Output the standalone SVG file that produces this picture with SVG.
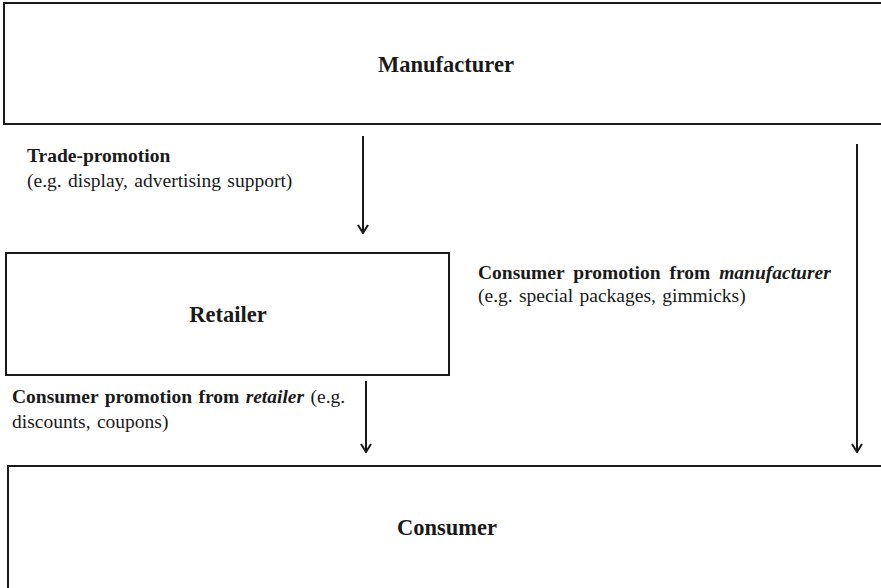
<svg xmlns="http://www.w3.org/2000/svg" width="881" height="588" viewBox="0 0 881 588">
  <style>
    .box { fill: #fff; stroke: #1a1a1a; stroke-width: 2; }
    .title { font-family: "Liberation Serif", "Times New Roman", serif; font-weight: bold; font-size: 22.5px; fill: #1a1a1a; text-anchor: middle; }
    .note { font-family: "Liberation Serif", "Times New Roman", serif; font-size: 19.5px; fill: #1a1a1a; word-spacing: 1.5px; }
    .wide { word-spacing: 4px; }
    .b { font-weight: bold; }
    .bi { font-weight: bold; font-style: italic; }
    .conn { stroke: #1a1a1a; stroke-width: 2; fill: none; marker-end: url(#arrow); }
  </style>
  <defs>
    <!-- open V arrowhead, drawn pointing along +x so orient="auto" turns it with the line -->
    <marker id="arrow" viewBox="0 0 10 12" refX="9" refY="6" markerWidth="10" markerHeight="12" markerUnits="userSpaceOnUse" orient="auto">
      <path d="M1,1 L9,6 L1,11" fill="none" stroke="#1a1a1a" stroke-width="2"/>
    </marker>
  </defs>
  <rect width="881" height="588" fill="#fff"/>

  <g id="manufacturer">
    <rect class="box" x="4" y="3" width="900" height="121"/>
    <text class="title" x="446" y="72">Manufacturer</text>
  </g>

  <g id="retailer">
    <rect class="box" x="6" y="253" width="443" height="122"/>
    <text class="title" x="228" y="322">Retailer</text>
  </g>

  <g id="consumer">
    <rect class="box" x="8" y="466" width="900" height="140"/>
    <text class="title" x="447" y="535">Consumer</text>
  </g>

  <g id="connectors">
    <line class="conn" x1="363" y1="136" x2="363" y2="233"/>
    <line class="conn" x1="366" y1="381" x2="366" y2="452"/>
    <line class="conn" x1="857" y1="144" x2="857" y2="452"/>
  </g>

  <g id="labels">
    <text class="note" x="27" y="162"><tspan class="b">Trade-promotion</tspan></text>
    <text class="note" x="27" y="187">(e.g. display, advertising support)</text>

    <text class="note wide" x="478" y="279"><tspan class="b">Consumer promotion from </tspan><tspan class="bi">manufacturer</tspan></text>
    <text class="note" x="478" y="302">(e.g. special packages, gimmicks)</text>

    <text class="note" x="12" y="403"><tspan class="b">Consumer promotion from </tspan><tspan class="bi">retailer</tspan> (e.g.</text>
    <text class="note" x="12" y="428">discounts, coupons)</text>
  </g>
</svg>
